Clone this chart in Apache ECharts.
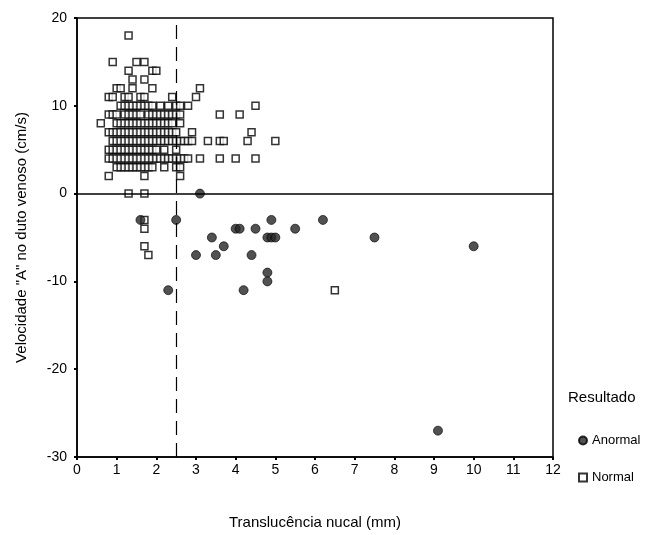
<!DOCTYPE html>
<html>
<head>
<meta charset="utf-8">
<script src="https://cdn.jsdelivr.net/npm/echarts@6/dist/echarts.min.js"></script>
<style>
  html, body { margin: 0; padding: 0; background: #fff; }
  #chart { width: 655px; height: 535px; }
</style>
</head>
<body>
<div id="chart"></div>
<script>
// Normal: rows of [velocity, list of TN values]
var normalRows = [
  [18, [1.3]],
  [15, [0.9, 1.5, 1.7]],
  [14, [1.3, 1.9, 2.0]],
  [13, [1.4, 1.7]],
  [12, [1.0, 1.1, 1.4, 1.9, 3.1]],
  [11, [0.8, 0.9, 1.2, 1.3, 1.6, 1.7, 2.4, 3.0]],
  [10, [1.1, 1.2, 1.3, 1.4, 1.5, 1.6, 1.7, 1.8, 1.9, 2.1, 2.3, 2.5, 2.6, 2.8, 4.5]],
  [9, [0.8, 0.9, 1.0, 1.2, 1.3, 1.4, 1.5, 1.6, 1.8, 1.9, 2.0, 2.1, 2.2, 2.3, 2.4, 2.5, 2.6, 3.6, 4.1]],
  [8, [0.6, 1.0, 1.1, 1.2, 1.3, 1.4, 1.5, 1.6, 1.7, 1.8, 1.9, 2.0, 2.1, 2.2, 2.3, 2.4, 2.6]],
  [7, [0.8, 0.9, 1.0, 1.1, 1.2, 1.3, 1.4, 1.5, 1.6, 1.7, 1.8, 1.9, 2.0, 2.1, 2.2, 2.3, 2.4, 2.5, 2.9, 4.4]],
  [6, [0.9, 1.0, 1.1, 1.2, 1.3, 1.4, 1.5, 1.6, 1.7, 1.8, 1.9, 2.0, 2.1, 2.2, 2.3, 2.4, 2.5, 2.6, 2.7, 2.8, 2.9, 3.3, 3.6, 3.7, 4.3, 5.0]],
  [5, [0.8, 0.9, 1.0, 1.1, 1.2, 1.3, 1.4, 1.5, 1.6, 1.7, 1.8, 1.9, 2.0, 2.2, 2.5]],
  [4, [0.8, 0.9, 1.0, 1.1, 1.2, 1.3, 1.4, 1.5, 1.6, 1.7, 1.8, 1.9, 2.0, 2.1, 2.2, 2.3, 2.4, 2.5, 2.6, 2.7, 2.8, 3.1, 3.6, 4.0, 4.5]],
  [3, [1.0, 1.1, 1.2, 1.3, 1.4, 1.5, 1.6, 1.7, 1.8, 1.9, 2.2, 2.5, 2.6]],
  [2, [0.8, 1.7, 2.6]],
  [0, [1.3, 1.7]],
  [-3, [1.7]],
  [-4, [1.7]],
  [-6, [1.7]],
  [-7, [1.8]],
  [-11, [6.5]]
];

var anormalTN = [3.1, 1.6, 2.5, 4.9, 6.2, 4.0, 4.1, 4.5, 5.5, 3.4, 4.8, 4.9, 5.0, 7.5, 3.7, 10.0, 3.0, 3.5, 4.4, 4.8, 4.8, 2.3, 4.2, 9.1];
var anormalVel = [0, -3, -3, -3, -3, -4, -4, -4, -4, -5, -5, -5, -5, -5, -6, -6, -7, -7, -7, -9, -10, -11, -11, -27];

var xTicks = [0, 1, 2, 3, 4, 5, 6, 7, 8, 9, 10, 11, 12];
var yTicks = [-30, -20, -10, 0, 10, 20];
var cutoff = 2.5;

var normalData = [];
normalRows.forEach(function (r) {
  r[1].forEach(function (tn) { normalData.push([tn, r[0]]); });
});
var anormalData = anormalTN.map(function (tn, i) { return [tn, anormalVel[i]]; });

var font = 'Liberation Sans, Arial, sans-serif';
var chart = echarts.init(document.getElementById('chart'));

chart.setOption({
  animation: false,
  backgroundColor: '#fff',
  grid: {
    left: 77, right: 102, top: 18, bottom: 78,
    show: true, borderColor: '#000', borderWidth: 1.5
  },
  xAxis: {
    type: 'value',
    min: xTicks[0], max: xTicks[xTicks.length - 1], interval: 1,
    name: 'Translucência nucal (mm)',
    nameLocation: 'middle', nameGap: 58,
    nameTextStyle: { fontFamily: font, fontSize: 15, color: '#000' },
    axisLine: { onZero: false, lineStyle: { color: '#000', width: 1.5 } },
    axisTick: { show: true, length: 3, lineStyle: { color: '#000', width: 2 } },
    axisLabel: { fontFamily: font, fontSize: 14, color: '#000', margin: 6 },
    splitLine: { show: false }
  },
  yAxis: {
    type: 'value',
    min: yTicks[0], max: yTicks[yTicks.length - 1], interval: 10,
    name: 'Velocidade "A" no duto venoso (cm/s)',
    nameLocation: 'middle', nameGap: 48,
    nameTextStyle: { fontFamily: font, fontSize: 15, color: '#000' },
    axisLine: { onZero: false, lineStyle: { color: '#000', width: 1.5 } },
    axisTick: { show: true, length: 3, lineStyle: { color: '#000', width: 2 } },
    axisLabel: { fontFamily: font, fontSize: 14, color: '#000', margin: 10 },
    splitLine: { show: false }
  },
  legend: {
    orient: 'vertical',
    left: 573, top: 429,
    itemGap: 24,
    itemWidth: 8, itemHeight: 8,
    textStyle: { fontFamily: font, fontSize: 13, color: '#000' },
    data: [
      { name: 'Anormal', icon: 'circle' },
      { name: 'Normal', icon: 'rect' }
    ]
  },
  graphic: [{
    type: 'text', left: 568, top: 390,
    style: { text: 'Resultado', font: '15px ' + font, fill: '#000' }
  }],
  series: [
    {
      name: 'Normal',
      type: 'scatter',
      symbol: 'rect',
      symbolSize: 7,
      itemStyle: { color: '#fff', borderColor: '#000', borderWidth: 1.5 },
      data: normalData,
      markLine: {
        silent: true, symbol: 'none', label: { show: false },
        data: [
          { yAxis: 0, lineStyle: { color: '#000', width: 1.5, type: 'solid' } },
          { xAxis: cutoff, lineStyle: { color: '#000', width: 1.2, type: [14, 8] } }
        ]
      }
    },
    {
      name: 'Anormal',
      type: 'scatter',
      symbol: 'circle',
      symbolSize: 9,
      itemStyle: { color: '#262626', borderColor: '#000', borderWidth: 0.8 },
      data: anormalData
    }
  ]
});
</script>
</body>
</html>
